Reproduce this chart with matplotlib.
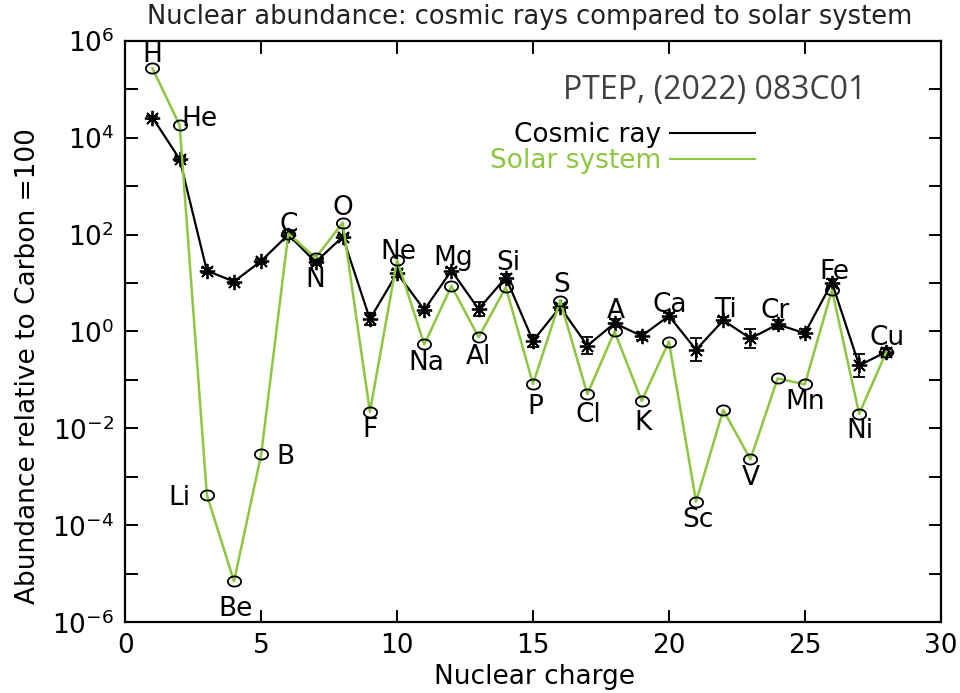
import numpy as np
import matplotlib
matplotlib.use("Agg")
import matplotlib.pyplot as plt
from matplotlib.lines import Line2D
from matplotlib.path import Path
from matplotlib.ticker import FixedLocator, FixedFormatter, NullLocator, NullFormatter

plt.rcParams["font.family"] = ["DejaVu Sans"]
plt.rcParams["mathtext.fontset"] = "dejavusans"

# ---- data ---------------------------------------------------------------
elements = ["H", "He", "Li", "Be", "B", "C", "N", "O", "F", "Ne", "Na", "Mg",
            "Al", "Si", "P", "S", "Cl", "A", "K", "Ca", "Sc", "Ti", "V", "Cr",
            "Mn", "Fe", "Ni", "Cu"]
charge = [1, 2, 3, 4, 5, 6, 7, 8, 9, 10, 11, 12, 13, 14, 15, 16, 17, 18, 19,
          20, 21, 22, 23, 24, 25, 26, 27, 28]

solar = [2.7e5, 1.8e4, 4.3e-4, 7.0e-6, 2.9e-3, 105, 33, 176, 0.022, 30, 0.54,
         8.7, 0.76, 8.2, 0.083, 4.3, 0.051, 1.0, 0.037, 0.62, 3.1e-4, 0.024,
         2.3e-3, 0.108, 0.081, 7.2, 0.020, 0.38]

cosmic = [2.6e4, 3.6e3, 18, 10.7, 28.5, 100, 27, 90, 1.8, 16, 2.8, 18, 2.9,
          13, 0.64, 3.2, 0.51, 1.48, 0.81, 2.1, 0.42, 1.7, 0.72, 1.4, 0.92,
          10.2, 0.20, 0.38]

# uncertainty of the cosmic-ray abundances, in dex
cosmic_err_dex = [0.03, 0.04, 0.05, 0.05, 0.04, 0.03, 0.05, 0.03, 0.12, 0.07,
                  0.06, 0.06, 0.15, 0.07, 0.13, 0.06, 0.17, 0.08, 0.09, 0.06,
                  0.24, 0.06, 0.20, 0.10, 0.08, 0.07, 0.24, 0.05]

y_decades = [-6, -5, -4, -3, -2, -1, 0, 1, 2, 3, 4, 5, 6]
x_ticks = [0, 5, 10, 15, 20, 25, 30]

# ---- element label placement: (series, dx px, dy px) --------------------
label_place = {
    "H": ("s", 0, 16), "He": ("s", 20, 9), "Li": ("s", -27, 0),
    "Be": ("s", 2, -25), "B": ("s", 24, 0), "C": ("s", 0, 12),
    "N": ("s", 0, -19), "O": ("s", 0, 18), "F": ("s", 0, -15),
    "Ne": ("s", 1, 11), "Na": ("s", 2, -16), "Mg": ("c", 2, 16),
    "Al": ("s", 0, -17), "Si": ("c", 3, 18), "P": ("s", 2, -20),
    "S": ("s", 1, 19), "Cl": ("s", 1, -18), "A": ("c", 1, 15),
    "K": ("s", 1, -19), "Ca": ("c", 1, 14), "Sc": ("s", 2, -15),
    "Ti": ("c", 2, 13), "V": ("s", 0, -16), "Cr": ("c", -2, 16),
    "Mn": ("s", 0, -15), "Fe": ("c", 2, 14), "Ni": ("s", 1, -14),
    "Cu": ("s", 1, 17),
}

GREEN = "#8dc63f"

# slightly wide open-circle marker
t = np.linspace(0, 2 * np.pi, 41)
ellipse = Path(np.column_stack([1.3 * np.cos(t), np.sin(t)]), closed=True)

fig = plt.figure(figsize=(9.6, 6.93), dpi=100)
ax = fig.add_axes([0.1305, 0.102, 0.8494, 0.8393])

z = np.array(charge, dtype=float)
cr = np.array(cosmic)
err = np.array(cosmic_err_dex)
yerr = np.vstack([cr - cr * 10 ** (-err), cr * 10 ** err - cr])

ax.errorbar(z, cr, yerr=yerr, color="black", lw=1.6, elinewidth=1.3,
            capsize=4.5, capthick=1.3, marker=(8, 2, 0), ms=11, mew=1.3,
            zorder=2)
ax.plot(z, solar, color=GREEN, lw=1.8, zorder=3)
ax.plot(z, solar, ls="none", marker=ellipse, ms=9.5, mfc="none",
        mec="black", mew=1.3, zorder=4)

for name, zi, s, c in zip(elements, charge, solar, cosmic):
    which, dx, dy = label_place[name]
    yv = s if which == "s" else c
    ax.annotate(name, xy=(zi, yv), xytext=(dx, dy), textcoords="offset pixels",
                ha="center", va="center_baseline", fontsize=19, color="black",
                zorder=5)

ax.set_yscale("log")
ax.set_xlim(0, 30)
ax.set_ylim(1e-6, 1e6)

major = [10.0 ** d for d in y_decades if d % 2 == 0]
minor = [10.0 ** d for d in y_decades if d % 2 != 0]
ax.yaxis.set_major_locator(FixedLocator(major))
ax.yaxis.set_major_formatter(FixedFormatter(
    [f"$10^{{{d}}}$" for d in y_decades if d % 2 == 0]))
ax.yaxis.set_minor_locator(FixedLocator(minor))
ax.yaxis.set_minor_formatter(NullFormatter())
ax.xaxis.set_major_locator(FixedLocator(x_ticks))
ax.xaxis.set_major_formatter(FixedFormatter([str(v) for v in x_ticks]))
ax.xaxis.set_minor_locator(NullLocator())

ax.tick_params(which="both", direction="in", length=9, width=1.4,
               top=True, right=True, labelsize=19, color="black")
ax.tick_params(axis="y", pad=8)
ax.tick_params(axis="x", pad=8)
for sp in ax.spines.values():
    sp.set_linewidth(1.6)

ax.set_xlabel("Nuclear charge", fontsize=19)
ax.xaxis.label.set_va("center")
ax.xaxis.set_label_coords(0.502, -0.094)
ax.set_ylabel("Abundance relative to Carbon =100", fontsize=19)
ax.yaxis.label.set_va("center")
ax.yaxis.set_label_coords(-0.119, 0.44)

fig.text(0.552, 1 - 17 / 693, "Nuclear abundance: cosmic rays compared to solar system",
         ha="center", va="center", fontsize=18.5, color="#222222")

handles = [Line2D([], [], color="black", lw=1.5),
           Line2D([], [], color=GREEN, lw=1.5)]
ax.legend(handles, ["Cosmic ray", "Solar system"], loc="upper right",
          bbox_to_anchor=(0.772, 0.860), markerfirst=False, frameon=False,
          fontsize=19, handlelength=3.2, handletextpad=0.35, labelspacing=0.0,
          borderpad=0, borderaxespad=0, labelcolor=["black", GREEN])

fig.text(0.744, 1 - 90 / 693, "PTEP, (2022) 083C01", family="Open Sans",
         fontsize=23, color="#404040", ha="center", va="center")

fig.savefig("out.png", dpi=100)
